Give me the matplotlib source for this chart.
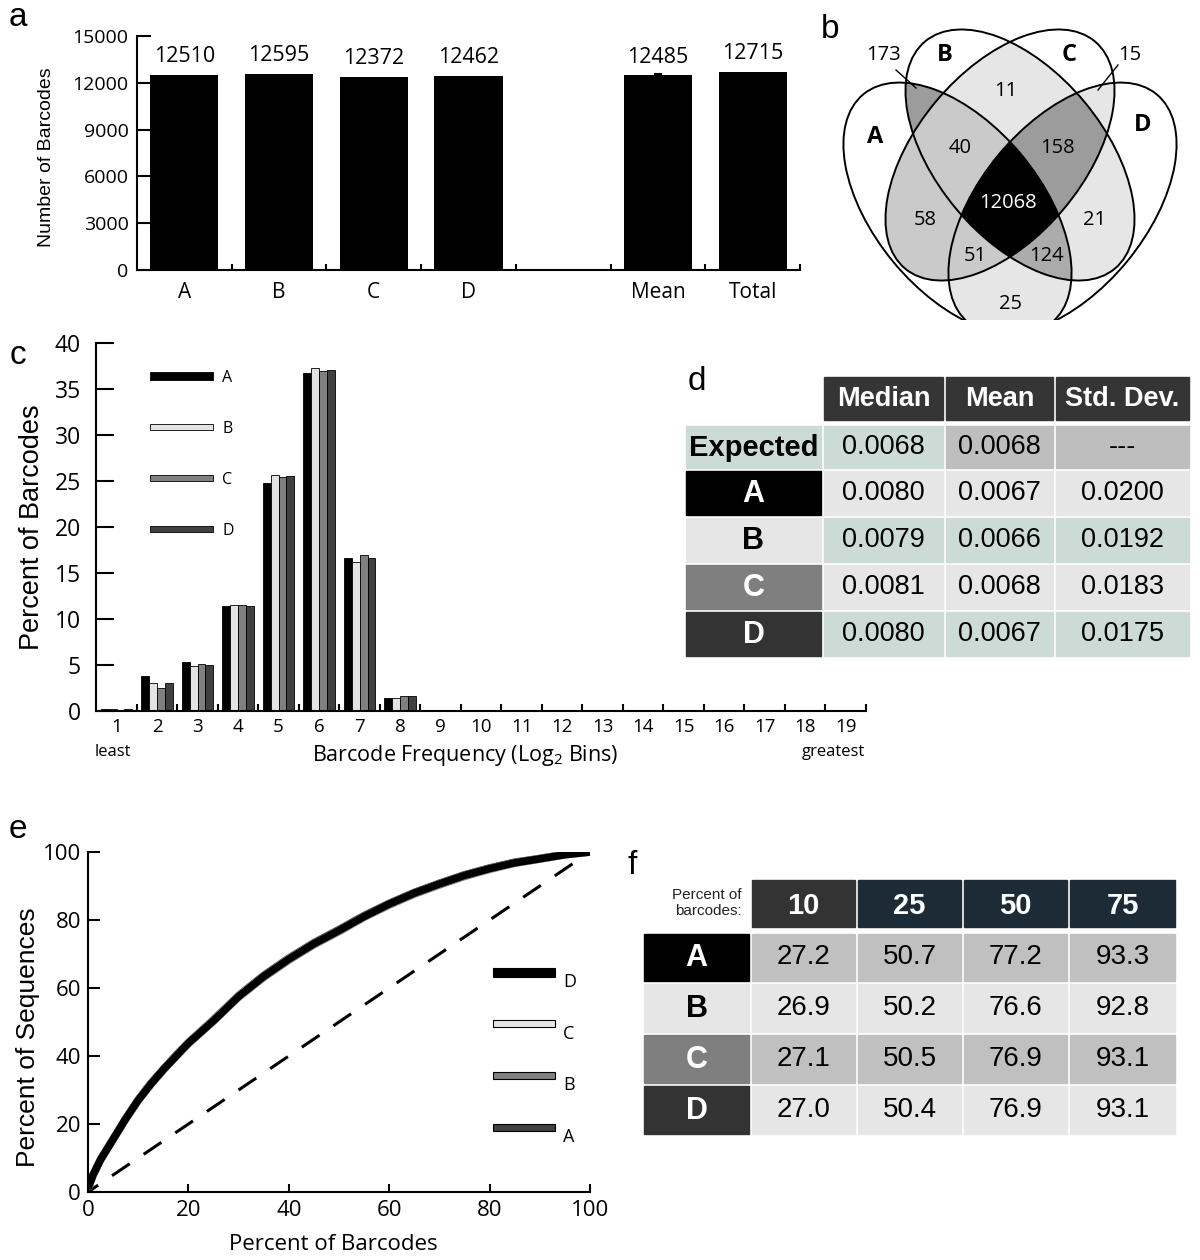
import numpy as np
import matplotlib
matplotlib.use('Agg')
import matplotlib.pyplot as plt
from matplotlib.patches import Rectangle, Ellipse
from matplotlib.colors import to_rgb

W, H = 1200, 1260
MY = ['Open Sans', 'DejaVu Sans']
AR = ['Liberation Sans', 'DejaVu Sans']
plt.rcParams['font.family'] = MY
plt.rcParams['mathtext.fontset'] = 'custom'
plt.rcParams['mathtext.rm'] = 'Open Sans'

# ---------------- data ----------------
# panel a
a_categories = ['A', 'B', 'C', 'D', '', 'Mean', 'Total']
a_values = [12510, 12595, 12372, 12462, np.nan, 12485, 12715]
a_errors = [0, 0, 0, 0, 0, 95, 0]
a_yticks = [0, 3000, 6000, 9000, 12000, 15000]

# panel b (Venn)
venn_sets = ['A', 'B', 'C', 'D']
venn_regions = ['AB', 'BC', 'CD', 'AC', 'BD', 'AD', 'ABC', 'BCD', 'ACD', 'ABD', 'ABCD']
venn_counts = [173, 11, 15, 58, 21, 25, 40, 158, 51, 124, 12068]
venn_shades = ['#9c9c9c', '#e6e6e6', '#e6e6e6', '#cacaca', '#e6e6e6', '#e6e6e6',
               '#cacaca', '#9c9c9c', '#cacaca', '#ababab', '#000000']

# panel c
c_bins = [str(i) for i in range(1, 20)]
c_series = ['A', 'B', 'C', 'D']
c_A = [0.2, 3.8, 5.35, 11.4, 24.75, 36.75, 16.6, 1.45, 0, 0, 0, 0, 0, 0, 0, 0, 0, 0, 0]
c_B = [0.25, 3.0, 4.9, 11.55, 25.65, 37.25, 16.15, 1.4, 0, 0, 0, 0, 0, 0, 0, 0, 0, 0, 0]
c_C = [0.15, 2.5, 5.15, 11.5, 25.4, 36.95, 17.0, 1.65, 0, 0, 0, 0, 0, 0, 0, 0, 0, 0, 0]
c_D = [0.2, 3.0, 4.95, 11.45, 25.55, 37.05, 16.6, 1.6, 0, 0, 0, 0, 0, 0, 0, 0, 0, 0, 0]
c_colors = ['#000000', '#e3e3e3', '#808080', '#404040']
c_yticks = [0, 5, 10, 15, 20, 25, 30, 35, 40]

# panel d
d_columns = ['Median', 'Mean', 'Std. Dev.']
d_rows = ['Expected', 'A', 'B', 'C', 'D']
d_median = [0.0068, 0.0080, 0.0079, 0.0081, 0.0080]
d_mean = [0.0068, 0.0067, 0.0066, 0.0068, 0.0067]
d_std = [None, 0.0200, 0.0192, 0.0183, 0.0175]

# panel e
e_x = [0, 1, 2.5, 5, 7.5, 10, 12.5, 15, 17.5, 20, 25, 30, 35, 40, 45, 50, 55, 60, 65, 70, 75, 80, 85, 90, 95, 100]
e_A = [1.0, 5.0, 9.6, 15.6, 21.6, 27.2, 32.0, 36.1, 40.2, 44.0, 50.7, 57.8, 63.7, 68.8, 73.3, 77.2, 81.3, 84.9, 88.1, 90.8, 93.3, 95.3, 97.0, 98.1, 99.3, 100.0]
e_B = [1.0, 5.0, 9.4, 15.4, 21.4, 26.9, 31.6, 35.8, 39.8, 43.6, 50.2, 57.3, 63.1, 68.2, 72.7, 76.6, 80.8, 84.4, 87.6, 90.3, 92.8, 94.9, 96.7, 97.9, 99.2, 100.0]
e_C = [1.0, 5.0, 9.5, 15.5, 21.5, 27.1, 31.8, 36.0, 40.0, 43.9, 50.5, 57.6, 63.4, 68.6, 73.0, 76.9, 81.0, 84.7, 87.9, 90.6, 93.1, 95.1, 96.8, 98.0, 99.2, 100.0]
e_D = [1.0, 5.0, 9.5, 15.5, 21.5, 27.0, 31.7, 36.0, 39.9, 43.8, 50.4, 57.5, 63.4, 68.5, 73.0, 76.9, 81.0, 84.7, 87.9, 90.6, 93.1, 95.1, 96.8, 98.0, 99.2, 100.0]
e_diag = [0, 100]
e_ticks = [0, 20, 40, 60, 80, 100]

# panel f
f_columns = [10, 25, 50, 75]
f_rows = ['A', 'B', 'C', 'D']
f_A = [27.2, 50.7, 77.2, 93.3]
f_B = [26.9, 50.2, 76.6, 92.8]
f_C = [27.1, 50.5, 76.9, 93.1]
f_D = [27.0, 50.4, 76.9, 93.1]

# ---------------- figure ----------------
fig = plt.figure(figsize=(W / 100, H / 100), dpi=100)


def px_axes(x0, y0, x1, y1, **kw):
    ax = fig.add_axes([x0 / W, 1 - y1 / H, (x1 - x0) / W, (y1 - y0) / H], **kw)
    ax.set_facecolor('none')
    return ax


def style_spines(ax, lw=1.5):
    for s in ['top', 'right']:
        ax.spines[s].set_visible(False)
    for s in ['left', 'bottom']:
        ax.spines[s].set_linewidth(lw)


# overlay for tables and panel letters (drawn on top, transparent)
ax_o = fig.add_axes([0, 0, 1, 1])
ax_o.set_xlim(0, W)
ax_o.set_ylim(H, 0)
ax_o.axis('off')
ax_o.set_zorder(10)

for letter, (lx, ly) in zip('abcdef', [(18, 18), (830, 30), (18, 355), (697, 382), (18, 830), (632, 866)]):
    ax_o.text(lx, ly, letter, fontsize=24, family=AR, ha='center', va='center')

# ---------------- panel a ----------------
ax_a = px_axes(137, 36, 800, 270)
xa = np.arange(len(a_categories))
ax_a.bar(xa, a_values, width=0.72, color='black')
err_idx = [i for i, e in enumerate(a_errors) if e > 0]
ax_a.errorbar([xa[i] for i in err_idx], [a_values[i] for i in err_idx], yerr=[a_errors[i] for i in err_idx],
              fmt='none', ecolor='black', elinewidth=1.5, capsize=3, capthick=1.5)
for x, v in zip(xa, a_values):
    if not np.isnan(v):
        ax_a.annotate(f'{int(v)}', (x, v), xytext=(0, 9), textcoords='offset points',
                      ha='center', va='baseline', fontsize=15.5)
ax_a.set_xlim(-0.5, len(a_categories) - 0.5)
ax_a.set_ylim(0, 15000)
ax_a.set_yticks(a_yticks)
ax_a.set_xticks(xa)
ax_a.set_xticklabels(a_categories)
ax_a.set_xticks(xa + 0.5, minor=True)
style_spines(ax_a)
ax_a.tick_params(axis='y', direction='in', length=10, width=1.5, labelsize=14, pad=6)
ax_a.tick_params(axis='x', which='major', length=0, labelsize=15, pad=9)
ax_a.tick_params(axis='x', which='minor', direction='in', length=4.5, width=1.5)
ax_a.set_ylabel('Number of Barcodes', fontsize=14, family=AR)
ax_a.yaxis.label.set_va('center')
ax_a.yaxis.set_label_coords((47 - 137) / 663, 0.48)

# ---------------- panel b (Venn) ----------------
VA, VB = 148.0, 83.5
venn_geom = [(957.5, 208.5, 50.5), (1020.0, 155.0, 50.1), (1000.0, 155.0, -50.1), (1062.5, 208.5, -50.5)]
ax_b = px_axes(830, 0, 1200, 320)
ax_b.set_xlim(830, 1200)
ax_b.set_ylim(320, 0)
ax_b.axis('off')
vx = np.arange(830, 1200) + 0.5
vy = np.arange(0, 320) + 0.5
XX, YY = np.meshgrid(vx, vy)
code = np.zeros(XX.shape, dtype=int)
for i, (cx, cy, ang) in enumerate(venn_geom):
    t = np.deg2rad(ang)
    dx, dy = XX - cx, YY - cy
    u = dx * np.cos(t) + dy * np.sin(t)
    v = -dx * np.sin(t) + dy * np.cos(t)
    code += ((u / VA) ** 2 + (v / VB) ** 2 <= 1).astype(int) << i
rgb = np.ones(XX.shape + (3,))
for reg, shade in zip(venn_regions, venn_shades):
    rc = sum(1 << venn_sets.index(ch) for ch in reg)
    rgb[code == rc] = to_rgb(shade)
ax_b.imshow(rgb, extent=(830, 1200, 320, 0), interpolation='nearest', aspect='auto', zorder=0)
for cx, cy, ang in venn_geom:
    ax_b.add_patch(Ellipse((cx, cy), 2 * VA, 2 * VB, angle=ang, fill=False, ec='black', lw=1.4, zorder=2))
venn_label_xy = [(884, 55), (1006, 91), (1130, 55), (925, 220), (1095, 220), (1011, 304),
                 (960, 148), (1057, 148), (975, 256), (1046, 256), (1008, 203)]
for reg, cnt, (tx, ty) in zip(venn_regions, venn_counts, venn_label_xy):
    ax_b.text(tx, ty, str(cnt), ha='center', va='center', fontsize=14.5,
              color='white' if reg == 'ABCD' else 'black', zorder=3)
ax_b.plot([896, 916], [70, 88], color='black', lw=1.0, zorder=3)
ax_b.plot([1118, 1098], [65, 90], color='black', lw=1.0, zorder=3)
for name, (tx, ty) in zip(venn_sets, [(875, 137), (945, 55), (1069, 55), (1143, 125)]):
    ax_b.text(tx, ty, name, ha='center', va='center', fontsize=17, fontweight='bold', zorder=3)

# ---------------- panel c ----------------
ax_c = px_axes(96.3, 343, 866, 711)
xc = np.arange(1, len(c_bins) + 1)
bw = 0.195
for i, (vals, col) in enumerate(zip([c_A, c_B, c_C, c_D], c_colors)):
    ax_c.bar(xc + (i - 1.5) * bw, vals, width=bw, color=col, edgecolor='black', linewidth=0.6)
ax_c.set_xlim(0.5, len(c_bins) + 0.5)
ax_c.set_ylim(0, 40)
ax_c.set_yticks(c_yticks)
ax_c.set_xticks(xc)
ax_c.set_xticklabels(c_bins)
ax_c.set_xticks(xc + 0.5, minor=True)
style_spines(ax_c)
ax_c.tick_params(axis='y', direction='in', length=13, width=1.5, labelsize=16.5, pad=11)
ax_c.tick_params(axis='x', which='major', length=0, labelsize=13.5, pad=5)
ax_c.tick_params(axis='x', which='minor', direction='in', length=5, width=1.5)
ax_c.set_ylabel('Percent of Barcodes', fontsize=19.5, family=AR)
ax_c.yaxis.label.set_va('center')
ax_c.yaxis.set_label_coords((32 - 96.3) / 769.7, 0.5)
ax_c.set_xlabel('Barcode Frequency (Log$_2$ Bins)', fontsize=15.5)
ax_c.xaxis.label.set_va('center')
ax_c.xaxis.set_label_coords((465 - 96.3) / 769.7, (711 - 755) / 368)
ax_c.annotate('least', (xc[0], 0), xycoords=('data', 'axes fraction'), xytext=(-4, -41),
              textcoords='offset pixels', ha='center', va='center', fontsize=12)
ax_c.annotate('greatest', (xc[-1], 0), xycoords=('data', 'axes fraction'), xytext=(-12, -41),
              textcoords='offset pixels', ha='center', va='center', fontsize=12)
# legend for c (manual swatches in axes fraction)
for i, (name, col) in enumerate(zip(c_series, c_colors)):
    yc = 376 + i * 51
    hgt = 8 if i == 0 else 6
    x0f = (150 - 96.3) / 769.7
    wf = 63 / 769.7
    ax_c.add_patch(Rectangle((x0f, (711 - yc - hgt / 2) / 368), wf, hgt / 368, transform=ax_c.transAxes,
                             facecolor=col, edgecolor='black', lw=0.6, clip_on=False))
    ax_c.text((222 - 96.3) / 769.7, (711 - yc - 2) / 368, name, transform=ax_c.transAxes,
              ha='left', va='center', fontsize=11.5)

# ---------------- panel d (table) ----------------
d_col_edges = [(824, 943), (946, 1053), (1056, 1189)]
d_lab_edge = (686, 821)
d_row_edges = [(426, 468), (471, 515), (518, 562), (565, 609), (612, 656)]
d_head_edge = (377, 420)
d_label_bg = ['#cddbd7', '#000000', '#e6e6e6', '#7f7f7f', '#333333']
d_label_fg = ['black', 'white', 'black', 'white', 'white']
d_cell_bg = [['#cddbd7', '#bebebe', '#bebebe'], ['#e6e6e6'] * 3, ['#cddbd7'] * 3,
             ['#e6e6e6'] * 3, ['#cddbd7'] * 3]
for (x0, x1), col in zip(d_col_edges, d_columns):
    ax_o.add_patch(Rectangle((x0, d_head_edge[0]), x1 - x0, d_head_edge[1] - d_head_edge[0], color='#353535'))
    ax_o.text((x0 + x1) / 2, (d_head_edge[0] + d_head_edge[1]) / 2 + 1, col, ha='center', va='center',
              color='white', fontsize=19.5, fontweight='bold', family=AR)
for r, name in enumerate(d_rows):
    y0, y1 = d_row_edges[r]
    ax_o.add_patch(Rectangle((d_lab_edge[0], y0), d_lab_edge[1] - d_lab_edge[0], y1 - y0, color=d_label_bg[r]))
    ax_o.text((d_lab_edge[0] + d_lab_edge[1]) / 2, (y0 + y1) / 2 + 1, name, ha='center', va='center',
              color=d_label_fg[r], fontsize=21 if r == 0 else 22, fontweight='bold', family=AR)
    vals = [d_median[r], d_mean[r], d_std[r]]
    for c, ((x0, x1), v) in enumerate(zip(d_col_edges, vals)):
        ax_o.add_patch(Rectangle((x0, y0), x1 - x0, y1 - y0, color=d_cell_bg[r][c]))
        ax_o.text((x0 + x1) / 2, (y0 + y1) / 2, '---' if v is None else f'{v:.4f}', ha='center', va='center',
                  fontsize=19.5, family=AR)

# ---------------- panel e ----------------
ax_e = px_axes(88, 852, 590, 1192)
ax_e.plot(e_diag, e_diag, color='black', lw=2.2, ls=(3, (7, 5.5)))
e_colors = ['#404040', '#808080', '#e6e6e6', '#000000']
for vals, col in zip([e_A, e_B, e_C, e_D], e_colors):
    ax_e.plot(e_x, vals, color=col, lw=5.5, solid_joinstyle='round', solid_capstyle='butt')
ax_e.set_xlim(0, 100)
ax_e.set_ylim(0, 100)
ax_e.set_xticks(e_ticks)
ax_e.set_yticks(e_ticks)
style_spines(ax_e)
ax_e.tick_params(axis='y', direction='in', length=8.5, width=1.5, labelsize=16, pad=5)
ax_e.tick_params(axis='x', direction='in', length=6, width=1.5, labelsize=16, pad=6)
ax_e.set_ylabel('Percent of Sequences', fontsize=19, family=AR)
ax_e.yaxis.label.set_va('center')
ax_e.yaxis.set_label_coords((28 - 88) / 502, (1192 - 1037) / 340)
ax_e.set_xlabel('Percent of Barcodes', fontsize=16)
ax_e.xaxis.label.set_va('center')
ax_e.xaxis.set_label_coords((333 - 88) / 502, (1192 - 1244) / 340)
e_leg_names = ['D', 'C', 'B', 'A']
e_leg_cols = ['#000000', '#e6e6e6', '#808080', '#404040']
for i, (name, col) in enumerate(zip(e_leg_names, e_leg_cols)):
    yc = 972 + i * 51.7
    hgt = 9 if i == 0 else 7
    ax_e.add_patch(Rectangle(((493 - 88) / 502, (1192 - yc - hgt / 2) / 340), 62 / 502, hgt / 340,
                             transform=ax_e.transAxes, facecolor=col, edgecolor='black', lw=0.8, clip_on=False))
    ax_e.text((563 - 88) / 502, (1192 - yc - 10) / 340, name, transform=ax_e.transAxes,
              ha='left', va='center', fontsize=13)

# ---------------- panel f (table) ----------------
f_col_edges = [(752, 855), (858, 961), (964, 1067), (1070, 1175)]
f_lab_edge = (644, 749)
f_head_edge = (880, 927)
f_row_edges = [(934, 981), (984, 1032), (1035, 1083), (1086, 1134)]
f_head_bg = ['#333333', '#1c2b35', '#1c2b35', '#1c2b35']
f_label_bg = ['#000000', '#e6e6e6', '#7f7f7f', '#333333']
f_label_fg = ['white', 'black', 'white', 'white']
f_cell_bg = ['#c0c0c0', '#e6e6e6', '#c0c0c0', '#e6e6e6']
ax_o.text(742, 903, 'Percent of\nbarcodes:', ha='right', va='center', fontsize=11, family=AR,
          color='#222222', linespacing=1.15)
for (x0, x1), col, bg in zip(f_col_edges, f_columns, f_head_bg):
    ax_o.add_patch(Rectangle((x0, f_head_edge[0]), x1 - x0, f_head_edge[1] - f_head_edge[0], color=bg))
    ax_o.text((x0 + x1) / 2, (f_head_edge[0] + f_head_edge[1]) / 2 + 2, str(col), ha='center', va='center',
              color='white', fontsize=21, fontweight='bold', family=AR)
for r, (name, vals) in enumerate(zip(f_rows, [f_A, f_B, f_C, f_D])):
    y0, y1 = f_row_edges[r]
    ax_o.add_patch(Rectangle((f_lab_edge[0], y0), f_lab_edge[1] - f_lab_edge[0], y1 - y0, color=f_label_bg[r]))
    ax_o.text((f_lab_edge[0] + f_lab_edge[1]) / 2, (y0 + y1) / 2 + 1, name, ha='center', va='center',
              color=f_label_fg[r], fontsize=22, fontweight='bold', family=AR)
    for (x0, x1), v in zip(f_col_edges, vals):
        ax_o.add_patch(Rectangle((x0, y0), x1 - x0, y1 - y0, color=f_cell_bg[r]))
        ax_o.text((x0 + x1) / 2, (y0 + y1) / 2, f'{v:.1f}', ha='center', va='center', fontsize=20, family=AR)

fig.savefig('out.png', dpi=100, facecolor='white')
